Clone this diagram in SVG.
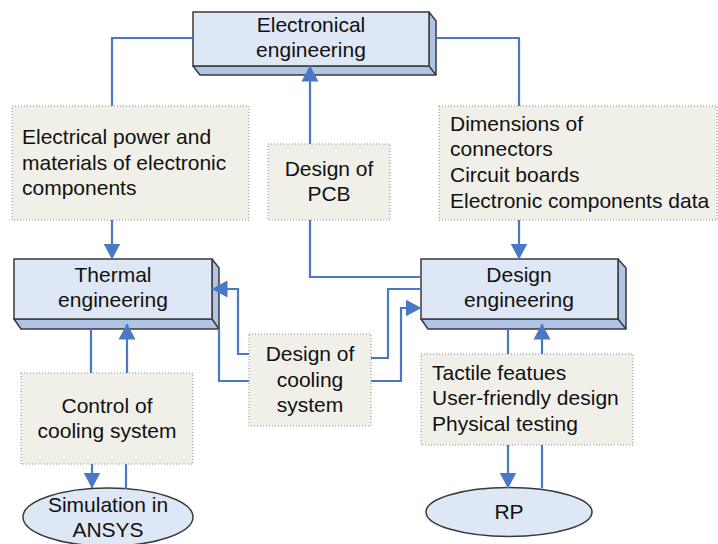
<svg xmlns="http://www.w3.org/2000/svg" width="718" height="544" viewBox="0 0 718 544">
<style>
text{font-family:"Liberation Sans",Arial,sans-serif;font-size:21px;fill:#111}
.c{text-anchor:middle}
.front{fill:#dde7f5;stroke:#3a3a3a;stroke-width:1.5}
.side{fill:#b0c5e6;stroke:#3a3a3a;stroke-width:1.5;stroke-linejoin:round}
.note{fill:#f0f0e9;stroke:#8c8c8c;stroke-width:1;stroke-dasharray:1 2}
.ell{fill:#dde7f5;stroke:#3a3a3a;stroke-width:1.5}
.con{fill:none;stroke:#4a78c5;stroke-width:2.2}
.arr{marker-end:url(#ah)}
</style>
<defs>
<marker id="ah" markerUnits="userSpaceOnUse" markerWidth="16" markerHeight="18" viewBox="0 0 16 18" refX="15.5" refY="9" orient="auto">
<path d="M0,0.5 L16,9 L0,17.5 z" fill="#4a78c5"/>
</marker>
</defs>
<rect width="718" height="544" fill="#fff"/>

<g id="electronical">
<polygon class="side" points="429,12 436,21 436,75 200,75 193,66 429,66"/>
<line x1="429" y1="66" x2="436" y2="75" stroke="#3a3a3a" stroke-width="1.5"/>
<rect class="front" x="193" y="12" width="236" height="54"/>
<text class="c" x="311" y="32">Electronical</text>
<text class="c" x="311" y="57">engineering</text>
</g>

<g id="thermal">
<polygon class="side" points="212,259 219,268 219,329 21,329 14,319 212,319"/>
<line x1="212" y1="319" x2="219" y2="329" stroke="#3a3a3a" stroke-width="1.5"/>
<rect class="front" x="14" y="259" width="198" height="60"/>
<text class="c" x="113" y="282">Thermal</text>
<text class="c" x="113" y="307">engineering</text>
</g>

<g id="design">
<polygon class="side" points="618,259 626,268 626,329 428,329 421,319 618,319"/>
<line x1="618" y1="319" x2="626" y2="329" stroke="#3a3a3a" stroke-width="1.5"/>
<rect class="front" x="421" y="259" width="197" height="60"/>
<text class="c" x="519" y="282">Design</text>
<text class="c" x="519" y="307">engineering</text>
</g>

<g id="electrical-power">
<rect class="note" x="12" y="106" width="237" height="114"/>
<text x="22" y="144">Electrical power and</text>
<text x="22" y="170">materials of electronic</text>
<text x="22" y="195">components</text>
</g>

<g id="pcb">
<rect class="note" x="268" y="144" width="122" height="76"/>
<text class="c" x="329" y="176">Design of</text>
<text class="c" x="329" y="201">PCB</text>
</g>

<g id="dimensions">
<rect class="note" x="439" y="106" width="278" height="114"/>
<text x="450" y="131">Dimensions of</text>
<text x="450" y="156">connectors</text>
<text x="450" y="182">Circuit boards</text>
<text x="450" y="208">Electronic components data</text>
</g>

<g id="cooling">
<rect class="note" x="249" y="334" width="122" height="92"/>
<text class="c" x="310" y="361">Design of</text>
<text class="c" x="310" y="387">cooling</text>
<text class="c" x="310" y="412">system</text>
</g>

<g id="control">
<rect class="note" x="21" y="373" width="172" height="91"/>
<text class="c" x="107" y="413">Control of</text>
<text class="c" x="107" y="438">cooling system</text>
</g>

<g id="tactile">
<rect class="note" x="421" y="354" width="212" height="91"/>
<text x="432" y="380">Tactile featues</text>
<text x="432" y="405">User-friendly design</text>
<text x="432" y="431">Physical testing</text>
</g>

<g id="simulation">
<ellipse class="ell" cx="108" cy="517" rx="85" ry="29"/>
<text class="c" x="108" y="512">Simulation in</text>
<text class="c" x="108" y="537">ANSYS</text>
</g>

<g id="rp">
<ellipse class="ell" cx="509" cy="512" rx="83" ry="24.5"/>
<text class="c" x="509" y="519">RP</text>
</g>

<g id="connectors">
<path class="con" d="M193,38 H112 V106"/>
<path class="con arr" d="M112,220 V259"/>
<path class="con" d="M436,38 H519 V106"/>
<path class="con arr" d="M519,220 V259"/>
<path class="con" d="M421,277 H310 V220"/>
<path class="con arr" d="M310,144 V66"/>
<path class="con" d="M91,329 V373"/>
<path class="con arr" d="M127,373 V324"/>
<path class="con arr" d="M92,464 V488"/>
<path class="con" d="M126,464 V489"/>
<path class="con arr" d="M249,354 H238 V289 H212"/>
<path class="con" d="M249,381 H219 V329"/>
<path class="con" d="M371,358 H388 V289 H421"/>
<path class="con arr" d="M371,381 H401 V308 H421"/>
<path class="con" d="M508,329 V354"/>
<path class="con arr" d="M542,354 V324"/>
<path class="con arr" d="M508,445 V488"/>
<path class="con" d="M542,445 V488"/>
</g>
</svg>
